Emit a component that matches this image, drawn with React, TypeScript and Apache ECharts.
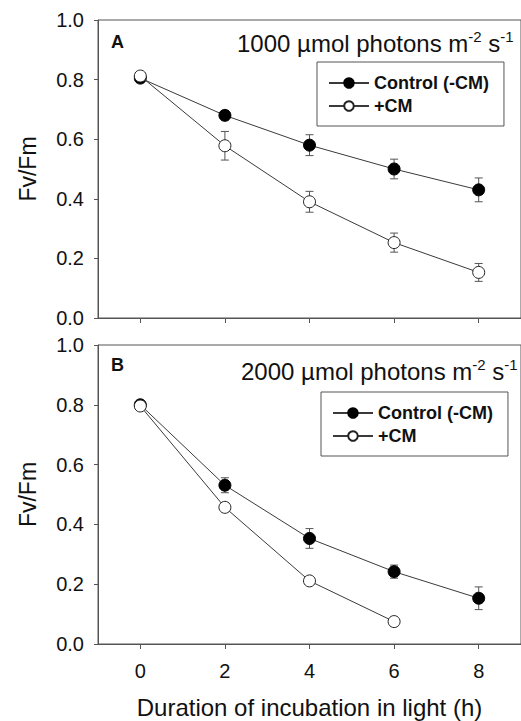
import React, { useEffect, useRef } from "react";
import * as echarts from "echarts";

const xValues = [0, 2, 4, 6, 8];
const ctrlA = [0.805, 0.68, 0.58, 0.5, 0.43];
const ctrlAErr = [0.01, 0.015, 0.035, 0.033, 0.04];
const cmA = [0.812, 0.578, 0.39, 0.253, 0.153];
const cmAErr = [0.01, 0.048, 0.035, 0.032, 0.03];
const ctrlB = [0.8, 0.531, 0.353, 0.242, 0.153];
const ctrlBErr = [0.01, 0.025, 0.033, 0.022, 0.038];
const cmBx = [0, 2, 4, 6];
const cmB = [0.796, 0.457, 0.211, 0.075];
const cmBErr = [0.01, 0.01, 0.01, 0.01];
const yTicks = [0, 0.2, 0.4, 0.6, 0.8, 1.0];
const seriesNames = ["Control (-CM)", "+CM"];
const panelLetters = ["A", "B"];
const panelIntensity = ["1000", "2000"];
const xTitle = "Duration of incubation in light (h)";
const yTitle = "Fv/Fm";

const FONT = "'Liberation Sans', Arial, sans-serif";
const TEXT = "#111";
const AXIS = "#555";
const LINE = "#3a3a3a";

function pairs(xs: number[], ys: number[]) {
  return xs.map((x, i) => [x, ys[i]]);
}
function errs(xs: number[], ys: number[], es: number[]) {
  return xs.map((x, i) => [x, ys[i] - es[i], ys[i] + es[i]]);
}

const errRender = (params: any, api: any) => {
  const x = api.value(0);
  const lo = api.coord([x, api.value(1)]);
  const hi = api.coord([x, api.value(2)]);
  const w = 4;
  const st = { stroke: "#555", lineWidth: 1 };
  return {
    type: "group",
    children: [
      { type: "line", shape: { x1: lo[0], y1: lo[1], x2: hi[0], y2: hi[1] }, style: st },
      { type: "line", shape: { x1: lo[0] - w, y1: lo[1], x2: lo[0] + w, y2: lo[1] }, style: st },
      { type: "line", shape: { x1: hi[0] - w, y1: hi[1], x2: hi[0] + w, y2: hi[1] }, style: st },
    ],
  };
};

export default function App() {
  const ref = useRef<HTMLDivElement>(null);
  useEffect(() => {
    if (!ref.current) return;
    const chart = echarts.init(ref.current, null, { renderer: "svg" });
    const grids = [
      { left: 98, top: 20, width: 425, height: 298 },
      { left: 98, top: 345, width: 425, height: 299 },
    ];
    const xAxes = grids.map((_, i) => ({
      type: "value",
      gridIndex: i,
      min: -1,
      max: 9,
      splitLine: { show: false },
      axisLine: { onZero: false, lineStyle: { color: AXIS, width: 1 } },
      axisTick: { show: true, length: 5, customValues: xValues, lineStyle: { color: AXIS } },
      axisLabel: {
        show: i === 1,
        customValues: xValues,
        fontSize: 20,
        color: TEXT,
        fontFamily: FONT,
        margin: 17,
      },
      name: i === 1 ? xTitle : "",
      nameLocation: "middle",
      nameGap: 51,
      nameTextStyle: { fontSize: 24, color: TEXT, fontFamily: FONT },
    }));
    const yAxes = grids.map((_, i) => ({
      type: "value",
      gridIndex: i,
      min: yTicks[0],
      max: yTicks[yTicks.length - 1],
      interval: 0.2,
      splitLine: { show: false },
      axisLine: { show: true, onZero: false, lineStyle: { color: AXIS, width: 1 } },
      axisTick: { show: true, length: 4, lineStyle: { color: AXIS } },
      axisLabel: {
        fontSize: 20,
        color: TEXT,
        fontFamily: FONT,
        margin: 14,
        formatter: (v: number) => v.toFixed(1),
      },
      name: yTitle,
      nameLocation: "middle",
      nameGap: 59,
      nameTextStyle: { fontSize: 23, color: TEXT, fontFamily: FONT },
    }));

    const ctrlStyle = {
      type: "line",
      symbol: "circle",
      symbolSize: 12,
      itemStyle: { color: "#000", borderColor: "#000", borderWidth: 1 },
      lineStyle: { color: LINE, width: 1 },
      z: 3,
    };
    const cmStyle = {
      type: "line",
      symbol: "circle",
      symbolSize: 12,
      itemStyle: { color: "#fff", borderColor: "#222", borderWidth: 1 },
      lineStyle: { color: LINE, width: 1 },
      z: 4,
    };
    const errSeries = (i: number, data: number[][]) => ({
      type: "custom",
      xAxisIndex: i,
      yAxisIndex: i,
      renderItem: errRender,
      encode: { x: 0, y: [1, 2] },
      data,
      z: 2,
      silent: true,
    });

    const series: any[] = [
      errSeries(0, errs(xValues, ctrlA, ctrlAErr)),
      errSeries(0, errs(xValues, cmA, cmAErr)),
      errSeries(1, errs(xValues, ctrlB, ctrlBErr)),
      errSeries(1, errs(cmBx, cmB, cmBErr)),
      { ...ctrlStyle, name: seriesNames[0], xAxisIndex: 0, yAxisIndex: 0, data: pairs(xValues, ctrlA) },
      { ...cmStyle, name: seriesNames[1], xAxisIndex: 0, yAxisIndex: 0, data: pairs(xValues, cmA) },
      { ...ctrlStyle, name: seriesNames[0], xAxisIndex: 1, yAxisIndex: 1, data: pairs(xValues, ctrlB) },
      { ...cmStyle, name: seriesNames[1], xAxisIndex: 1, yAxisIndex: 1, data: pairs(cmBx, cmB) },
    ];

    const legendPos = [
      { left: 317, top: 62 },
      { left: 321, top: 392 },
    ];
    const legends = legendPos.map((p) => ({
      ...p,
      orient: "vertical",
      data: seriesNames,
      selectedMode: false,
      itemWidth: 40,
      itemHeight: 12,
      itemGap: 5,
      padding: [12, 15, 11, 11],
      borderColor: "#555",
      borderWidth: 1,
      textStyle: { fontSize: 18, fontWeight: "bold", color: TEXT, fontFamily: FONT },
    }));

    const titlePos = [
      { left: 237, top: 29 },
      { left: 241, top: 357 },
    ];
    const rich = {
      a: { fontSize: 24, color: TEXT, fontFamily: FONT },
      s: { fontSize: 15, color: TEXT, fontFamily: FONT, padding: [0, 0, 13, 0] },
    };
    const titles: any[] = titlePos.map((p, i) => ({
      ...p,
      text: `{a|${panelIntensity[i]} µmol photons m}{s|-2}{a| s}{s|-1}`,
      textStyle: { rich, fontSize: 24, fontWeight: "normal" },
      padding: 0,
    }));
    titles.push(
      { left: 111, top: 33, text: panelLetters[0], padding: 0, textStyle: { fontSize: 18, fontWeight: "bold", color: TEXT, fontFamily: FONT } },
      { left: 111, top: 356, text: panelLetters[1], padding: 0, textStyle: { fontSize: 18, fontWeight: "bold", color: TEXT, fontFamily: FONT } }
    );

    chart.setOption({
      animation: false,
      backgroundColor: "#fff",
      title: titles,
      legend: legends,
      grid: grids.map((g) => ({ ...g, show: true, borderColor: AXIS, borderWidth: 1, backgroundColor: "transparent" })),
      xAxis: xAxes,
      yAxis: yAxes,
      series,
    });
    return () => chart.dispose();
  }, []);
  return (
    <div
      ref={ref}
      style={{ position: "fixed", left: 0, top: 0, width: 521, height: 721, background: "#fff" }}
    />
  );
}
